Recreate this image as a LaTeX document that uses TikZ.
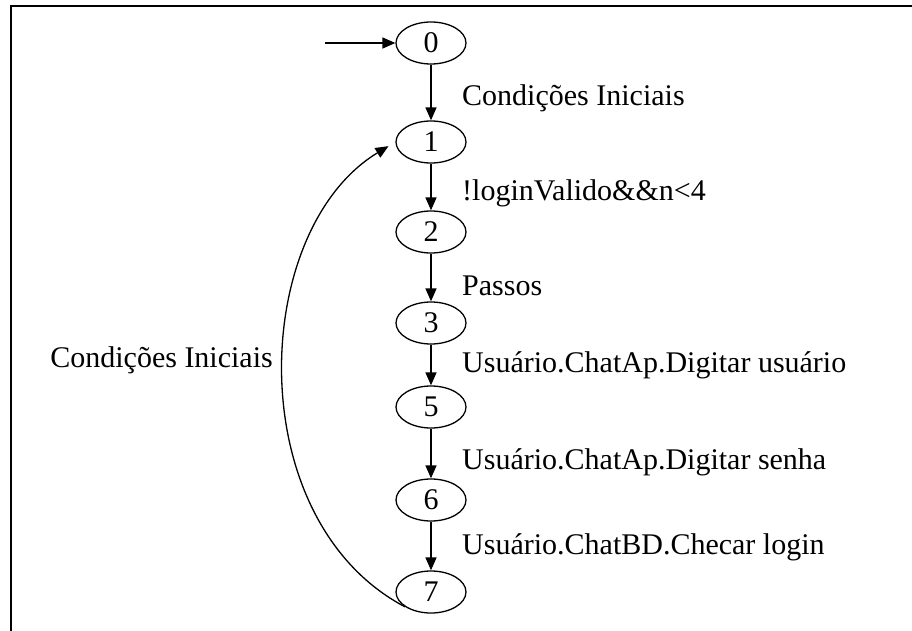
\documentclass[tikz,border=0pt]{standalone}
\usepackage{fontspec}
\setmainfont{Liberation Serif}
\usetikzlibrary{shapes.geometric,arrows.meta}

\begin{document}
\begin{tikzpicture}[x=1pt,y=-1pt,font=\fontsize{30}{36}\selectfont,
  state/.style={ellipse,draw,line width=1.3pt,minimum width=70pt,minimum height=42pt,inner sep=0pt},
  trans/.style={-{Triangle[length=13pt,width=11pt]},line width=1.5pt},
  lbl/.style={anchor=west,inner sep=0pt}]
  \useasboundingbox (0,0) rectangle (912,631);
  \draw[line width=2.5pt] (912,6) -- (11,6) -- (11,631);
  % states
  \node [state] (n0) at (431,43) {0};
  \node [state] (n1) at (431,142) {1};
  \node [state] (n2) at (431,232) {2};
  \node [state] (n3) at (431,323) {3};
  \node [state] (n5) at (431,407) {5};
  \node [state] (n6) at (431,500) {6};
  \node [state] (n7) at (431,592) {7};
  \coordinate (start) at (325,43);
  % transitions
  \draw [trans] (start) -- (n0);
  \draw [trans] (n0) -- (n1);
  \draw [trans] (n1) -- (n2);
  \draw [trans] (n2) -- (n3);
  \draw [trans] (n3) -- (n5);
  \draw [trans] (n5) -- (n6);
  \draw [trans] (n6) -- (n7);
  \draw [trans,line width=1.3pt,shorten >=8pt] (n7.210) .. controls (240,520) and (250,230) .. (n1.west);
  % labels
  \node [lbl] (l01) at (462,98) {Condições Iniciais};
  \node [lbl] (l12) at (462,193) {!loginValido\&\&n<4};
  \node [lbl] (l23) at (462,286) {Passos};
  \node [lbl] (l35) at (462,365) {Usuário.ChatAp.Digitar usuário};
  \node [lbl] (l56) at (462,462) {Usuário.ChatAp.Digitar senha};
  \node [lbl] (l67) at (462,547) {Usuário.ChatBD.Checar login};
  \node [anchor=east,inner sep=0pt] (l71) at (273,360) {Condições Iniciais};
\end{tikzpicture}
\end{document}
